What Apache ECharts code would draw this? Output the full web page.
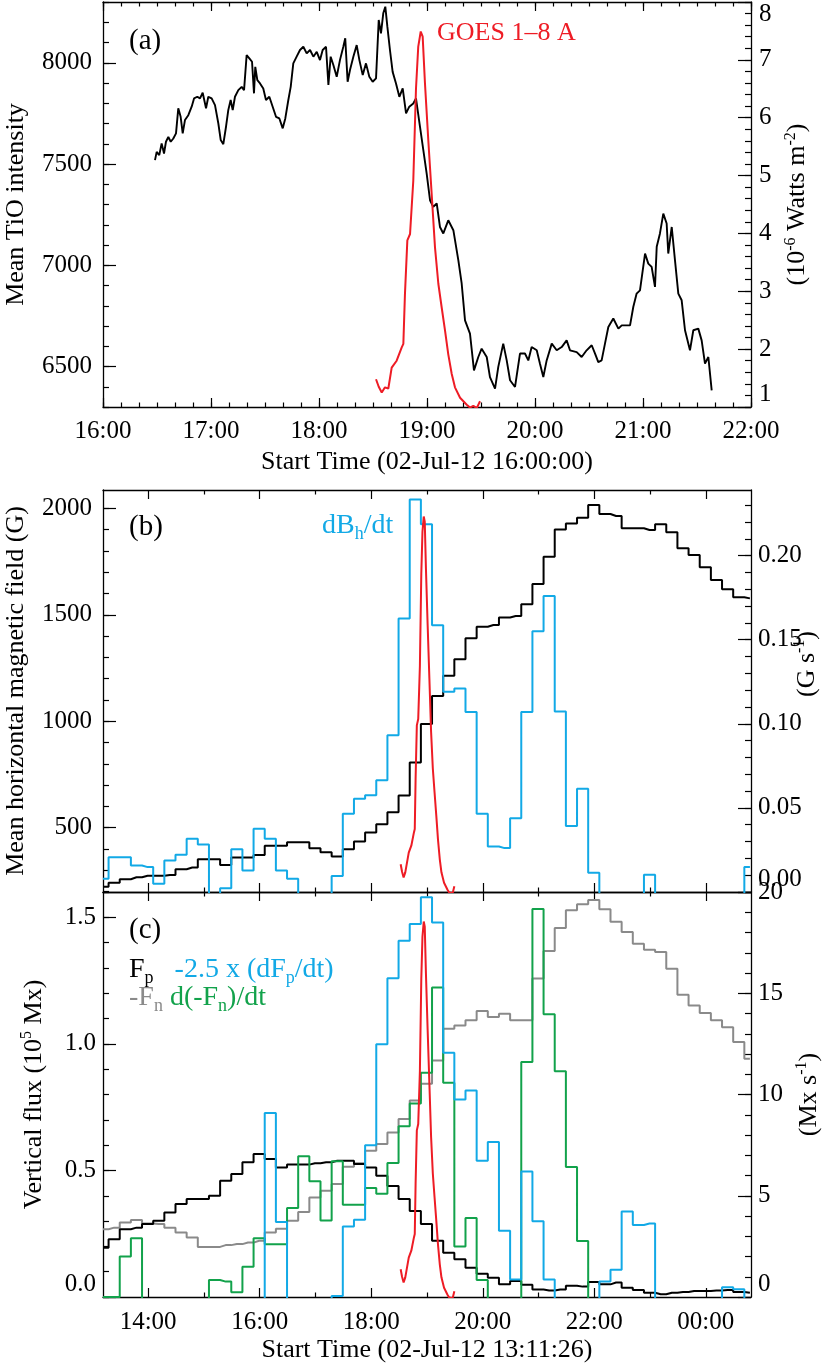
<!DOCTYPE html>
<html><head><meta charset="utf-8">
<script src="https://cdn.jsdelivr.net/npm/echarts@6/dist/echarts.min.js"></script>
<style>html,body{margin:0;padding:0;background:#fff}#c{width:831px;height:1365px}</style>
</head><body><div id="c"></div>
<script>
// ---------- Panel (a): TiO intensity (hours of day) ----------
const TIO_T = [16.4815,16.497,16.521,16.543,16.565,16.583,16.605,16.627,16.651,16.676,16.697,16.719,16.738,16.759,16.790,16.821,16.843,16.873,16.898,16.923,16.954,16.975,17.006,17.037,17.068,17.090,17.114,17.139,17.160,17.182,17.201,17.222,17.253,17.284,17.306,17.330,17.355,17.380,17.398,17.410,17.429,17.454,17.484,17.509,17.540,17.571,17.602,17.633,17.664,17.688,17.716,17.738,17.762,17.793,17.824,17.855,17.886,17.917,17.948,17.979,18.009,18.034,18.065,18.087,18.108,18.133,18.164,18.194,18.225,18.243,18.265,18.287,18.318,18.349,18.374,18.405,18.435,18.466,18.497,18.528,18.553,18.574,18.595,18.614,18.633,18.657,18.682,18.713,18.744,18.775,18.806,18.836,18.873,18.898,
18.935,18.966,18.997,19.028,19.058,19.090,19.120,19.151,19.197,19.244,19.290,19.321,19.352,19.398,19.435,19.475,19.506,19.553,19.583,19.630,19.660,19.706,19.738,19.769,19.815,19.861,19.907,19.938,19.969,20.016,20.046,20.077,20.108,20.155,20.201,20.247,20.293,20.324,20.386,20.432,20.478,20.525,20.556,20.586,20.617,20.648,20.679,20.725,20.772,20.803,20.849,20.880,20.910,20.941,20.972,21.019,21.049,21.080,21.111,21.127,21.157,21.188,21.219,21.234,21.266,21.296,21.327,21.358,21.389,21.435,21.466,21.512,21.543,21.574,21.605,21.636];
const TIO_V = [7519,7560,7544,7602,7552,7610,7634,7610,7626,7651,7775,7733,7651,7717,7741,7783,7824,7832,7824,7852,7775,7832,7824,7791,7700,7618,7598,7684,7766,7816,7766,7832,7865,7881,7865,8038,8022,8005,7849,7980,7914,7898,7873,7816,7832,7783,7733,7725,7676,7725,7816,7881,7997,8030,8063,8079,8046,8063,8030,8054,8013,8063,8079,7890,8030,7989,7931,8013,8079,8121,7906,7964,8030,8087,8013,7939,7997,7931,7906,7923,8211,8145,8244,8277,8178,8063,7955,7898,7832,7873,7750,7783,7799,7824,
7684,7568,7453,7321,7288,7305,7189,7157,7222,7173,7025,6910,6728,6662,6481,6547,6588,6547,6448,6391,6498,6613,6530,6432,6399,6564,6564,6530,6596,6580,6514,6448,6530,6613,6580,6596,6629,6580,6571,6547,6580,6605,6564,6522,6530,6613,6695,6737,6687,6703,6703,6703,6794,6860,6876,7058,7008,6992,6893,7091,7157,7255,7206,7058,7189,7025,6860,6827,6679,6580,6679,6687,6629,6514,6547,6382];

// ---------- GOES 1-8 A flux (10^-6 W m^-2) ----------
const GOES_T = [18.528,18.553,18.581,18.611,18.642,18.673,18.719,18.766,18.781,18.796,18.818,18.843,18.873,18.898,18.919,18.942,18.960,18.981,19.012,19.043,19.074,19.105,19.136,19.167,19.197,19.229,19.259,19.306,19.368,19.398,19.429,19.460,19.491];
const GOES_F = [1.48,1.35,1.25,1.34,1.32,1.68,1.80,2.03,2.09,2.96,3.88,3.99,4.91,6.50,7.23,7.49,7.40,6.60,5.61,4.69,3.76,3.13,2.72,2.32,1.91,1.57,1.34,1.16,1.04,0.99,1.02,0.98,1.10];

// ---------- Panels (b),(c): 12-min cadence starting 13:11:26 ----------
const BIN_START = 13 + 11/60 + 26/3600;
const BIN_STEP = 0.2; // hours (12 min)
const B_FIELD = [223,242,258,267,274,274,278,305,313,352,352,325,360,360,372,415,415,432,432,404,385,365,399,435,477,516,573,651,806,987,1119,1214,1291,1390,1444,1452,1487,1494,1549,1645,1773,1901,1929,1956,2015,1973,1964,1906,1906,1898,1925,1887,1812,1781,1723,1663,1620,1582,1577];
const B_RATE = [0.0079,0.0207,0.0207,0.0158,0.0148,0.0049,0.0188,0.0221,0.0317,0.0283,-0.02,0.0023,0.0254,0.0128,0.0376,0.0317,0.0128,0.0079,-0.02,-0.02,-0.02,0.0095,0.0465,0.0555,0.0575,0.0664,0.0932,0.1626,0.2334,0.2186,0.1586,0.119,0.121,0.107,0.0465,0.0271,0.0261,0.0439,0.107,0.155,0.176,0.1073,0.0392,0.0614,0.0114,-0.02,-0.02,-0.02,-0.02,0.0103,-0.02,-0.02,-0.02,-0.02,-0.02,-0.02,-0.02,-0.02,0.0148];
const C_FP = [0.195,0.228,0.268,0.274,0.288,0.301,0.334,0.367,0.387,0.387,0.400,0.459,0.486,0.532,0.565,0.545,0.512,0.523,0.523,0.528,0.532,0.538,0.538,0.525,0.512,0.479,0.439,0.387,0.340,0.288,0.222,0.175,0.149,0.116,0.092,0.076,0.050,0.063,0.048,0.030,0.026,0.030,0.044,0.041,0.059,0.050,0.057,0.037,0.028,0.017,0.011,0.017,0.020,0.024,0.024,0.026,0.028,0.020,0.017];
const C_FN = [0.268,0.274,0.294,0.304,0.290,0.288,0.274,0.255,0.235,0.198,0.198,0.205,0.209,0.215,0.222,0.255,0.270,0.301,0.336,0.393,0.420,0.446,0.515,0.528,0.578,0.604,0.650,0.703,0.776,0.842,0.934,1.060,1.073,1.093,1.130,1.106,1.119,1.093,1.093,1.258,1.367,1.458,1.528,1.552,1.568,1.532,1.482,1.442,1.396,1.372,1.363,1.297,1.194,1.152,1.122,1.093,1.066,1.007,0.941];
const C_DFP = [-1,-1,-1,-1,-1,-1,-1,-1,-1,-1,-1,-1,-1,-1,-1,9.09,3.70,-1,-1,-1,-1,0.05,3.48,3.81,7.49,12.48,15.74,17.59,18.42,19.74,18.5,12.06,9.75,10.2,6.73,7.66,3.27,0.87,6.2,3.74,0.87,-1,-1,-1,-1,0.76,1.34,4.22,3.56,3.63,-1,-1,-1,-1,-1,-1,0.48,0.38,-1];
const C_DFN = [0,0,2.0,2.9,-1,-1,-1,-1,-1,-1,0.84,0.76,0.23,1.5,2.9,2.61,2.61,4.39,6.95,5.71,3.78,6.70,4.55,4.55,5.38,5.10,6.62,8.43,9.55,11.07,15.28,10.58,2.49,3.9,0.84,-1,-1,-1,11.6,19.16,13.96,11.15,6.42,2.77,-1,-1,-1,-1,-1,-1,-1,-1,-1,-1,-1,-1,-1,-1,-1];

// ---------- tick labels ----------
const A_HOURS = [16,17,18,19,20,21,22];
const BC_HOURS = [14,16,18,20,22,24];
const BC_MINOR_HOURS = [15,17,19,21,23];
const A_LEFT_TICKS = [6500,7000,7500,8000];
const A_RIGHT_TICKS = [1,2,3,4,5,6,7,8];
const B_LEFT_TICKS = [500,1000,1500,2000];
const B_RIGHT_TICKS = [0,0.05,0.10,0.15,0.20];
const C_LEFT_TICKS = [0,0.5,1.0,1.5];
const C_RIGHT_TICKS = [0,5,10,15,20];

const binT = i => BIN_START + i * BIN_STEP;
const pairs = (xs, ys) => ys.map((v, i) => [xs[i], v]);
const binned = ys => ys.map((v, i) => [binT(i), v]);
function range(a, b, s) { const r = []; for (let k = 0; a + k * s <= b + 1e-9; k++) r.push(Math.round((a + k * s) * 1e6) / 1e6); return r; }

const FONT = 'Liberation Serif';
const BLUE = '#12A9E6', GREEN = '#12A24B', RED = '#EE1C25', GRAY = '#8A8A8A';
const LABEL_SIZE = 25, TITLE_SIZE = 26;
const supRich = {
  sup: { fontSize: 16, lineHeight: 14, verticalAlign: 'top', fontFamily: FONT, color: '#000' }
};

function ax(gridIndex, position, min, max, opts) {
  const o = {
    type: 'value', gridIndex, position, min, max,
    splitLine: { show: false },
    axisLine: { show: false, onZero: false },
    axisLabel: { show: false },
    axisTick: { show: false },
    silent: true
  };
  return Object.assign(o, opts || {});
}
function ticks(vals, len) {
  return { show: true, inside: true, length: len, customValues: vals, lineStyle: { color: '#000', width: 1.2 } };
}
function labels(vals, fmt, margin, extra) {
  return Object.assign({ show: true, customValues: vals, formatter: fmt, margin: margin, fontSize: LABEL_SIZE, fontFamily: FONT, color: '#000' }, extra || {});
}
const line = { show: true, onZero: false, lineStyle: { color: '#000', width: 1.3 } };
const hhmm = v => { const h = Math.round(v) % 24; return (h < 10 ? '0' : '') + h + ':00'; };

const A_XMIN = 16, A_XMAX = 22;
const BC_XMIN = BIN_START, BC_XMAX = 24.81;
const aMinorX = range(16, 22, 1/6);

const xTitleStyle = { fontSize: TITLE_SIZE, fontFamily: FONT, color: '#000' };
const xAxis = [
  // grid 0
  ax(0, 'bottom', A_XMIN, A_XMAX, { axisLine: line, axisTick: ticks(A_HOURS, 9), axisLabel: labels(A_HOURS, hhmm, 12),
    name: 'Start Time (02-Jul-12 16:00:00)', nameLocation: 'middle', nameGap: 42, nameTextStyle: xTitleStyle }),
  ax(0, 'bottom', A_XMIN, A_XMAX, { axisTick: ticks(aMinorX, 4.5) }),
  ax(0, 'top', A_XMIN, A_XMAX, { axisLine: line, axisTick: ticks(A_HOURS, 9) }),
  ax(0, 'top', A_XMIN, A_XMAX, { axisTick: ticks(aMinorX, 4.5) }),
  // grid 1
  ax(1, 'bottom', BC_XMIN, BC_XMAX, { axisLine: line, axisTick: ticks(BC_HOURS, 9) }),
  ax(1, 'bottom', BC_XMIN, BC_XMAX, { axisTick: ticks(BC_MINOR_HOURS, 4.5) }),
  ax(1, 'top', BC_XMIN, BC_XMAX, { axisLine: line, axisTick: ticks(BC_HOURS, 9) }),
  ax(1, 'top', BC_XMIN, BC_XMAX, { axisTick: ticks(BC_MINOR_HOURS, 4.5) }),
  // grid 2
  ax(2, 'bottom', BC_XMIN, BC_XMAX, { axisLine: line, axisTick: ticks(BC_HOURS, 9), axisLabel: labels(BC_HOURS, hhmm, 13),
    name: 'Start Time (02-Jul-12 13:11:26)', nameLocation: 'middle', nameGap: 40, nameTextStyle: xTitleStyle }),
  ax(2, 'bottom', BC_XMIN, BC_XMAX, { axisTick: ticks(BC_MINOR_HOURS, 4.5) }),
  ax(2, 'top', BC_XMIN, BC_XMAX, { axisLine: line, axisTick: ticks(BC_HOURS, 9) }),
  ax(2, 'top', BC_XMIN, BC_XMAX, { axisTick: ticks(BC_MINOR_HOURS, 4.5) })
];

const nameStyle = { fontSize: TITLE_SIZE, fontFamily: FONT, color: '#000', lineHeight: 30, rich: supRich };
const yAxis = [
  // 0,1 grid0 left
  ax(0, 'left', 6300, 8300, { axisLine: line, axisTick: ticks(A_LEFT_TICKS, 13), axisLabel: labels(A_LEFT_TICKS, v => String(v), 11),
    name: 'Mean TiO intensity', nameLocation: 'middle', nameGap: 69, nameTextStyle: nameStyle }),
  ax(0, 'left', 6300, 8300, { axisTick: ticks(range(6300, 8300, 100), 6) }),
  // 2,3 grid0 right
  ax(0, 'right', 1, 8, { axisLine: line, axisTick: ticks(A_RIGHT_TICKS, 13),
    axisLabel: labels(A_RIGHT_TICKS, v => String(v), 8, { verticalAlignMinLabel: 'bottom', verticalAlignMaxLabel: 'top' }),
    name: '(10{sup|-6} Watts m{sup|-2})', nameLocation: 'middle', nameGap: 22, nameTextStyle: nameStyle }),
  ax(0, 'right', 1, 8, { axisTick: ticks(range(1, 8, 0.2), 6) }),
  // 4,5 grid1 left
  ax(1, 'left', 198, 2086, { axisLine: line, axisTick: ticks(B_LEFT_TICKS, 13), axisLabel: labels(B_LEFT_TICKS, v => String(v), 11),
    name: 'Mean horizontal magnetic field (G)', nameLocation: 'middle', nameGap: 71, nameTextStyle: nameStyle }),
  ax(1, 'left', 198, 2086, { axisTick: ticks(range(200, 2000, 100), 6) }),
  // 6,7 grid1 right
  ax(1, 'right', 0, 0.239, { axisLine: line, axisTick: ticks(B_RIGHT_TICKS, 13),
    axisLabel: labels(B_RIGHT_TICKS, v => v.toFixed(2), 7, { verticalAlignMinLabel: 'bottom' }),
    name: '(G s{sup|-1})', nameLocation: 'middle', nameGap: 41, nameMoveOverlap: false,
    nameTextStyle: Object.assign({}, nameStyle, { padding: [0, 0, 0, 54] }) }),
  ax(1, 'right', 0, 0.239, { axisTick: ticks(range(0, 0.23, 0.01), 6) }),
  // 8 grid1 hidden GOES
  ax(1, 'right', 1, 7.948, { show: false }),
  // 9,10 grid2 left
  ax(2, 'left', 0, 1.6, { axisLine: line, axisTick: ticks(C_LEFT_TICKS, 13),
    axisLabel: labels(C_LEFT_TICKS, v => v.toFixed(1), 7, { verticalAlignMinLabel: 'bottom' }),
    name: 'Vertical flux (10{sup|5} Mx)', nameLocation: 'middle', nameGap: 54, nameTextStyle: nameStyle }),
  ax(2, 'left', 0, 1.6, { axisTick: ticks(range(0, 1.6, 0.1), 6) }),
  // 11,12 grid2 right
  ax(2, 'right', 0, 20, { axisLine: line, axisTick: ticks(C_RIGHT_TICKS, 13),
    axisLabel: labels(C_RIGHT_TICKS, v => String(v), 7, { verticalAlignMinLabel: 'bottom' }),
    name: '(Mx s{sup|-1})', nameLocation: 'middle', nameGap: 31, nameTextStyle: nameStyle }),
  ax(2, 'right', 0, 20, { axisTick: ticks(range(0, 20, 1), 6) }),
  // 13 grid2 hidden GOES
  ax(2, 'right', 1, 8.0, { show: false })
];

function lineSeries(name, x, y, data, color, step, width) {
  return { name, type: 'line', xAxisIndex: x, yAxisIndex: y, data, step: step || false,
    showSymbol: false, symbol: 'none', clip: true, silent: true,
    lineStyle: { color, width: width || 2 }, itemStyle: { color }, z: 2 };
}

const series = [
  lineSeries('TiO', 0, 0, pairs(TIO_T, TIO_V), '#000', false, 1.9),
  lineSeries('GOES a', 0, 2, pairs(GOES_T, GOES_F), RED, false, 2),
  lineSeries('Bh', 4, 4, binned(B_FIELD), '#000', 'middle', 2),
  lineSeries('dBh/dt', 4, 6, binned(B_RATE), BLUE, 'middle', 2),
  lineSeries('GOES b', 4, 8, pairs(GOES_T, GOES_F), RED, false, 2),
  lineSeries('-Fn', 8, 9, binned(C_FN), GRAY, 'middle', 2),
  lineSeries('Fp', 8, 9, binned(C_FP), '#000', 'middle', 2),
  lineSeries('d(-Fn)/dt', 8, 11, binned(C_DFN), GREEN, 'middle', 2),
  lineSeries('-2.5 dFp/dt', 8, 11, binned(C_DFP), BLUE, 'middle', 2),
  lineSeries('GOES c', 8, 13, pairs(GOES_T, GOES_F), RED, false, 2)
];

function rs(fill, size, lh, va) {
  return { fontSize: size, fontFamily: FONT, fill: fill, color: fill, lineHeight: lh, verticalAlign: va };
}
const annRich = {
  k: rs('#000', 28, 34, 'middle'), ks: rs('#000', 18, 14, 'bottom'),
  b: rs(BLUE, 28, 34, 'middle'), bs: rs(BLUE, 18, 14, 'bottom'),
  g: rs(GRAY, 28, 34, 'middle'), gs: rs(GRAY, 18, 14, 'bottom'),
  gr: rs(GREEN, 28, 34, 'middle'), grs: rs(GREEN, 18, 14, 'bottom'),
  r: rs(RED, 26, 34, 'middle'), p: rs('#000', 29, 34, 'middle')
};
function txt(x, y, text) {
  return { type: 'text', x, y, silent: true, z: 100,
    style: { text, rich: annRich, font: '28px "' + FONT + '"', fill: '#000',
      textAlign: 'left', textVerticalAlign: 'middle', align: 'left', verticalAlign: 'middle' } };
}

const option = {
  animation: false,
  backgroundColor: '#fff',
  grid: [
    { left: 103, width: 648, top: 2, height: 405, show: false, outerBoundsMode: 'none', containLabel: false },
    { left: 103, width: 648, top: 490, height: 402, show: false, outerBoundsMode: 'none', containLabel: false },
    { left: 103, width: 648, top: 892, height: 405, show: false, outerBoundsMode: 'none', containLabel: false }
  ],
  xAxis, yAxis, series,
  graphic: [
    txt(129, 41, '{p|(a)}'),
    txt(437, 33, '{r|GOES 1–8 A}'),
    txt(129, 527, '{p|(b)}'),
    txt(322, 526, '{b|dB}{bs|h}{b|/dt}'),
    txt(129, 930, '{p|(c)}'),
    txt(129, 970, '{k|F}{ks|p}{k|   }{b|-2.5 x (dF}{bs|p}{b|/dt)}'),
    txt(129, 998, '{g|-F}{gs|n}{g| }{gr|d(-F}{grs|n}{gr|)/dt}')
  ]
};

const chart = echarts.init(document.getElementById('c'), null, { renderer: 'canvas' });
chart.setOption(option);
</script></body></html>
